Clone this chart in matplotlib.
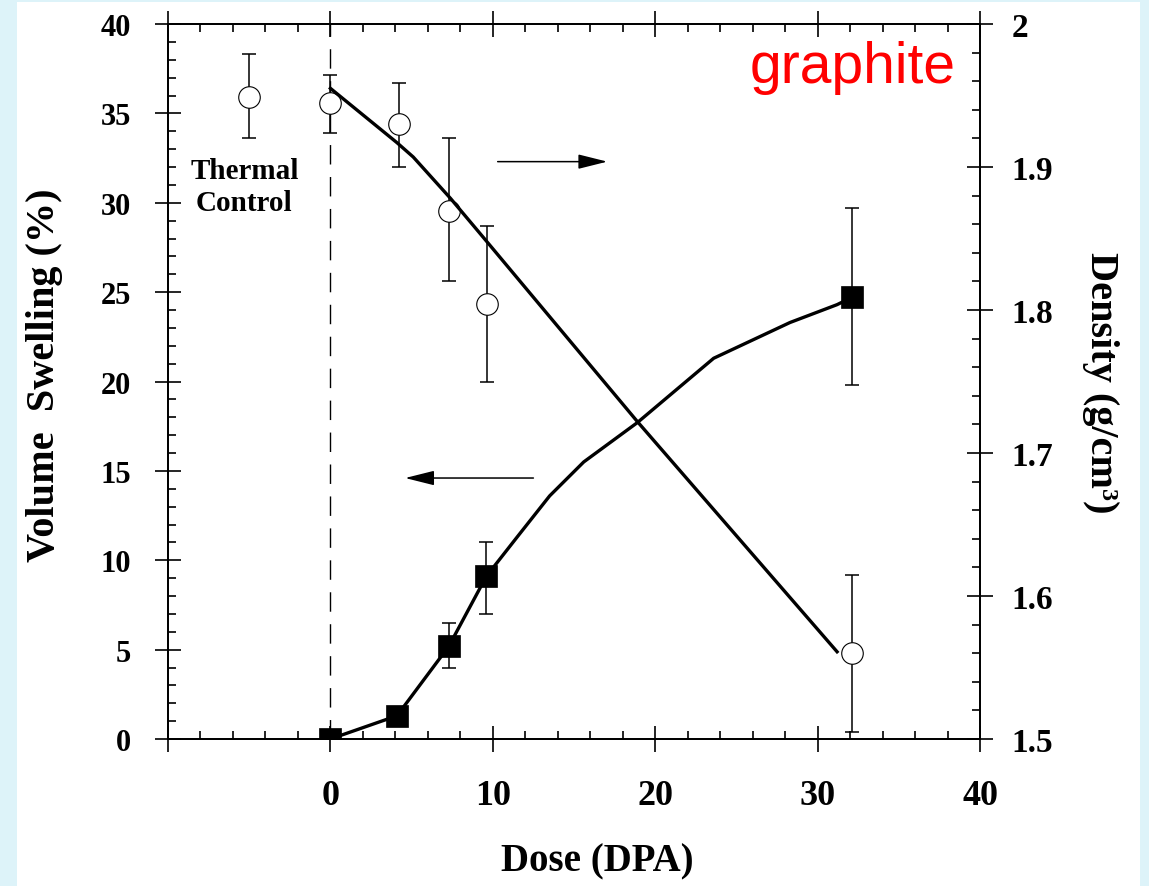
import numpy as np
import matplotlib
matplotlib.use("Agg")
import matplotlib.pyplot as plt
from matplotlib.patches import Rectangle
from matplotlib.ticker import MultipleLocator, FixedLocator

# ---- data ----
x_ticks = [-10, 0, 10, 20, 30, 40]
x_ticklabels = ["", "0", "10", "20", "30", "40"]
y_ticks = [0, 5, 10, 15, 20, 25, 30, 35, 40]
dens_ticks = [1.5, 1.6, 1.7, 1.8, 1.9, 2.0]
dens_ticklabels = ["1.5", "1.6", "1.7", "1.8", "1.9", "2"]

# density (open circles, right axis)
dose_density = [-5.0, 0.0, 4.2, 7.3, 9.65, 32.1]
density = [1.949, 1.945, 1.930, 1.869, 1.804, 1.560]
density_hi = [1.979, 1.964, 1.959, 1.920, 1.859, 1.615]
density_lo = [1.920, 1.924, 1.900, 1.820, 1.750, 1.505]

# density trend line
dose_density_fit = [0.0, 4.1, 5.1, 7.4, 9.4, 18.9, 31.2]
density_fit = [1.955, 1.917, 1.907, 1.878, 1.851, 1.722, 1.561]

# volume swelling (filled squares, left axis)
dose_swelling = [0.0, 4.1, 7.3, 9.6, 32.1]
swelling = [0.0, 1.3, 5.2, 9.1, 24.7]
swelling_hi = [np.nan, np.nan, 6.5, 11.0, 29.7]
swelling_lo = [np.nan, np.nan, 4.0, 7.0, 19.8]

# swelling trend line
dose_swelling_fit = [0.0, 4.1, 7.3, 9.6, 11.5, 13.5, 15.6, 18.9, 23.6, 28.3, 31.2, 32.1]
swelling_fit = [0.0, 1.3, 5.2, 9.1, 11.3, 13.6, 15.5, 17.7, 21.3, 23.3, 24.3, 24.7]

# arrows (data coordinates of the left axis)
arrow_right = ((10.3, 32.3), (17.05, 32.3))
arrow_left = ((12.5, 14.6), (4.6, 14.6))

# ---- styling ----
plt.rcParams['font.family'] = ['Liberation Serif', 'DejaVu Serif']
plt.rcParams['font.weight'] = 'bold'

W, H = 1149, 887
fig = plt.figure(figsize=(W / 100, H / 100), dpi=100)
fig.patch.set_facecolor('#ddf3f9')
fig.patches.append(Rectangle((17 / W, 0), (1140 - 17) / W, 1 - 3 / H,
                             transform=fig.transFigure, facecolor='white',
                             edgecolor='none', zorder=-10))

ax = fig.add_axes([168 / W, 1 - 740 / H, (980 - 168) / W, (740 - 25) / H])
ax.set_facecolor('white')
ax2 = ax.twinx()

for a in (ax, ax2):
    for s in a.spines.values():
        s.set_linewidth(1.3)

# x axis
ax.set_xlim(-10, 40)
ax.xaxis.set_major_locator(FixedLocator(x_ticks))
ax.set_xticklabels(x_ticklabels)
ax.xaxis.set_minor_locator(MultipleLocator(2))
ax.tick_params(axis='x', which='major', direction='inout', length=19.4, width=1.2,
               top=True, bottom=True, labelsize=26, pad=19)
ax.tick_params(axis='x', which='minor', direction='in', length=5.8, width=1.2,
               top=True, bottom=True)

# left y axis
ax.set_ylim(0, 40)
ax.yaxis.set_major_locator(FixedLocator(y_ticks))
ax.yaxis.set_minor_locator(MultipleLocator(1))
ax.tick_params(axis='y', which='major', direction='inout', length=19.4, width=1.2,
               left=True, right=False, labelsize=22, pad=17)
ax.tick_params(axis='y', which='minor', direction='in', length=5.8, width=1.2,
               left=True, right=False)

# right y axis
ax2.set_ylim(1.5, 2.0)
ax2.yaxis.set_major_locator(FixedLocator(dens_ticks))
ax2.set_yticklabels(dens_ticklabels)
ax2.yaxis.set_minor_locator(MultipleLocator(0.02))
ax2.tick_params(axis='y', which='major', direction='inout', length=19.4, width=1.2,
                right=True, left=False, labelsize=24, pad=13)
ax2.tick_params(axis='y', which='minor', direction='in', length=5.8, width=1.2,
                right=True, left=False)

# dashed line at zero dose
ax.axvline(0, color='black', lw=1.0, dashes=(14, 9), zorder=1)

# swelling
ax.plot(dose_swelling_fit, swelling_fit, color='black', lw=2.4, zorder=3)
sw_x = np.array(dose_swelling)
sw_y = np.array(swelling)
sw_hi = np.array(swelling_hi)
sw_lo = np.array(swelling_lo)
m = ~np.isnan(sw_hi)
ax.errorbar(sw_x[m], sw_y[m], yerr=[sw_y[m] - sw_lo[m], sw_hi[m] - sw_y[m]],
            fmt='none', ecolor='black', elinewidth=1.1, capsize=5, capthick=1.1, zorder=2)
ax.plot(sw_x, sw_y, linestyle='none', marker='s', markersize=15.5,
        markerfacecolor='black', markeredgecolor='black', markeredgewidth=0.5, zorder=4)

# density
d_x = np.array(dose_density)
d_y = np.array(density)
d_hi = np.array(density_hi)
d_lo = np.array(density_lo)
ax2.errorbar(d_x, d_y, yerr=[d_y - d_lo, d_hi - d_y], fmt='none', ecolor='black',
             elinewidth=1.1, capsize=5, capthick=1.1, zorder=2)
ax2.plot(d_x, d_y, linestyle='none', marker='o', markersize=15.5,
         markerfacecolor='white', markeredgecolor='black', markeredgewidth=0.8, zorder=3)
ax2.plot(dose_density_fit, density_fit, color='black', lw=2.4, zorder=4)

# arrows
for (start, end) in (arrow_right, arrow_left):
    ax.annotate('', xy=end, xytext=start,
                arrowprops=dict(arrowstyle='-|>,head_length=1.8,head_width=0.45',
                                lw=1.1, color='black', shrinkA=0, shrinkB=0,
                                mutation_scale=10))

# text
ax.text(-5.3, 31.8, 'Thermal', ha='center', va='center', fontsize=21)
ax.text(-5.3, 30.0, 'Control', ha='center', va='center', fontsize=21)

fig.text(597 / W, 1 - 862 / H, 'Dose (DPA)', ha='center', va='center', fontsize=28)
fig.text(45 / W, 1 - 375 / H, 'Volume  Swelling (%)', ha='center', va='center',
         rotation=90, fontsize=29)
fig.text(1100 / W, 1 - 383 / H, 'Density (g/cm³)', ha='center', va='center',
         rotation=-90, fontsize=29)

fig.text(853 / W, 1 - 83 / H, 'graphite', ha='center', va='baseline',
         fontsize=41, color='#ff0000', family='Liberation Sans', weight='normal')

fig.savefig('out.png', dpi=100, facecolor=fig.get_facecolor())
